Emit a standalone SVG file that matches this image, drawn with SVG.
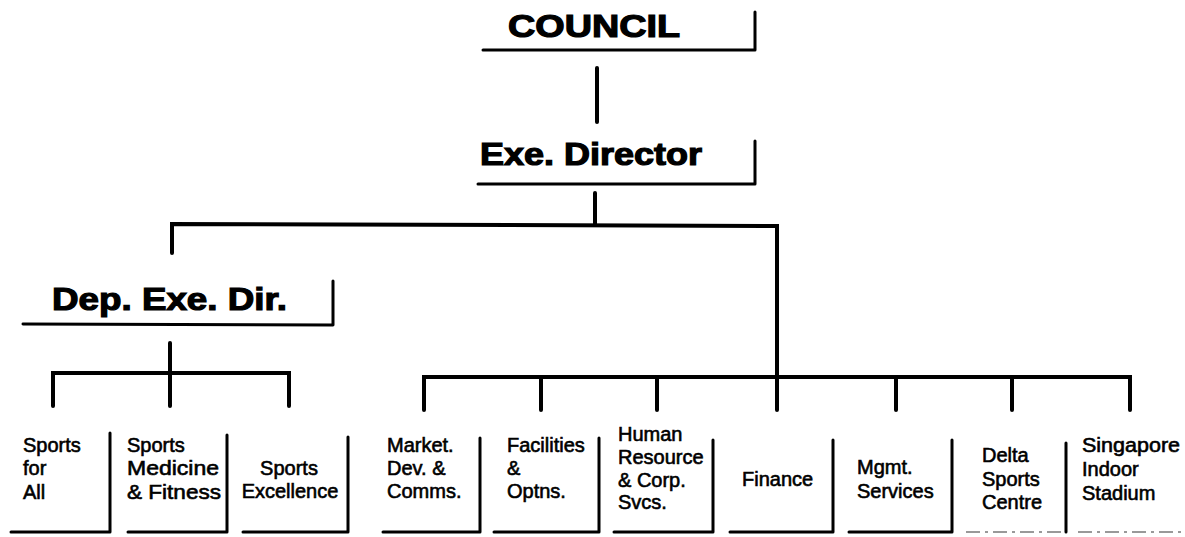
<svg xmlns="http://www.w3.org/2000/svg" width="1185" height="537" viewBox="0 0 1185 537">
  <style>
    .title { font-family: "Liberation Sans", Arial, sans-serif; font-weight: bold; fill: #000; stroke: #000; stroke-width: 1.2; }
    .lbl { font-family: "Liberation Sans", Arial, sans-serif; font-size: 20px; fill: #000; stroke: #000; stroke-width: 0.6; }
    .mid { text-anchor: middle; }
    .frame { fill: none; stroke: #000; stroke-width: 3; stroke-linecap: round; stroke-linejoin: round; }
    .faint { fill: none; stroke: #999; stroke-width: 2; stroke-dasharray: 14 5 3 5; }
    .link { fill: none; stroke: #000; stroke-width: 4; stroke-linecap: round; stroke-linejoin: miter; }
  </style>
  <rect width="1185" height="537" fill="#fff"/>

  <!-- connectors -->
  <g id="connectors">
    <path class="link" d="M597 68 V122"/>
    <path class="link" d="M595 193 V225"/>
    <path class="link" d="M172 253 V224 L777 226 V377"/>
    <path class="link" d="M170 343 V406"/>
    <path class="link" d="M53 406 V373 H289 V406"/>
    <path class="link" d="M424 410 V377 H1130 V410"/>
    <path class="link" d="M541 377 V410 M657 377 V410 M777 377 V410 M896 377 V410 M1012 377 V410"/>
  </g>

  <!-- top level -->
  <g id="council">
    <path class="frame" d="M483 50 H755 V12"/>
    <text class="title" x="508" y="37" font-size="31" textLength="172" lengthAdjust="spacingAndGlyphs">COUNCIL</text>
  </g>

  <g id="exe-director">
    <path class="frame" d="M478 184 H755 V141"/>
    <text class="title" x="480" y="165" font-size="31" textLength="222" lengthAdjust="spacingAndGlyphs">Exe. Director</text>
  </g>

  <g id="dep-exe-dir">
    <path class="frame" d="M23 324 L333 325 V281"/>
    <text class="title" x="52" y="310" font-size="32" textLength="235" lengthAdjust="spacingAndGlyphs">Dep. Exe. Dir.</text>
  </g>

  <!-- divisions under the deputy -->
  <g id="sports-for-all">
    <path class="frame" d="M11 532 H110 V433"/>
    <text class="lbl" x="23" y="452">Sports</text>
    <text class="lbl" x="23" y="475">for</text>
    <text class="lbl" x="23" y="499">All</text>
  </g>

  <g id="sports-medicine">
    <path class="frame" d="M128 532 H227 V435"/>
    <text class="lbl" x="127" y="452">Sports</text>
    <text class="lbl" x="127" y="475" textLength="92" lengthAdjust="spacingAndGlyphs">Medicine</text>
    <text class="lbl" x="127" y="499" textLength="94" lengthAdjust="spacingAndGlyphs">&amp; Fitness</text>
  </g>

  <g id="sports-excellence">
    <path class="frame" d="M243 532 H348 V437"/>
    <text class="lbl mid" x="289" y="475">Sports</text>
    <text class="lbl mid" x="290" y="498">Excellence</text>
  </g>

  <!-- divisions under the director -->
  <g id="market-dev">
    <path class="frame" d="M383 532 H480 V438"/>
    <text class="lbl" x="387" y="452">Market.</text>
    <text class="lbl" x="387" y="475">Dev. &amp;</text>
    <text class="lbl" x="387" y="498">Comms.</text>
  </g>

  <g id="facilities">
    <path class="frame" d="M494 532 H599 V438"/>
    <text class="lbl" x="507" y="452">Facilities</text>
    <text class="lbl" x="507" y="475">&amp;</text>
    <text class="lbl" x="507" y="498">Optns.</text>
  </g>

  <g id="human-resource">
    <path class="frame" d="M614 532 H713 V440"/>
    <text class="lbl" x="618" y="441">Human</text>
    <text class="lbl" x="618" y="464">Resource</text>
    <text class="lbl" x="618" y="487">&amp; Corp.</text>
    <text class="lbl" x="618" y="509">Svcs.</text>
  </g>

  <g id="finance">
    <path class="frame" d="M730 532 H833 V440"/>
    <text class="lbl" x="742" y="486">Finance</text>
  </g>

  <g id="mgmt-services">
    <path class="frame" d="M849 532 H952 V440"/>
    <text class="lbl" x="857" y="474">Mgmt.</text>
    <text class="lbl" x="857" y="498">Services</text>
  </g>

  <g id="delta-sports">
    <path class="faint" d="M966 532 H1062"/>
    <path class="frame" d="M1066 443 V532"/>
    <text class="lbl" x="982" y="462">Delta</text>
    <text class="lbl" x="982" y="486">Sports</text>
    <text class="lbl" x="982" y="509">Centre</text>
  </g>

  <g id="indoor-stadium">
    <path class="faint" d="M1078 532 H1185"/>
    <text class="lbl" x="1082" y="452" textLength="98" lengthAdjust="spacingAndGlyphs">Singapore</text>
    <text class="lbl" x="1082" y="476">Indoor</text>
    <text class="lbl" x="1082" y="500">Stadium</text>
  </g>
</svg>
